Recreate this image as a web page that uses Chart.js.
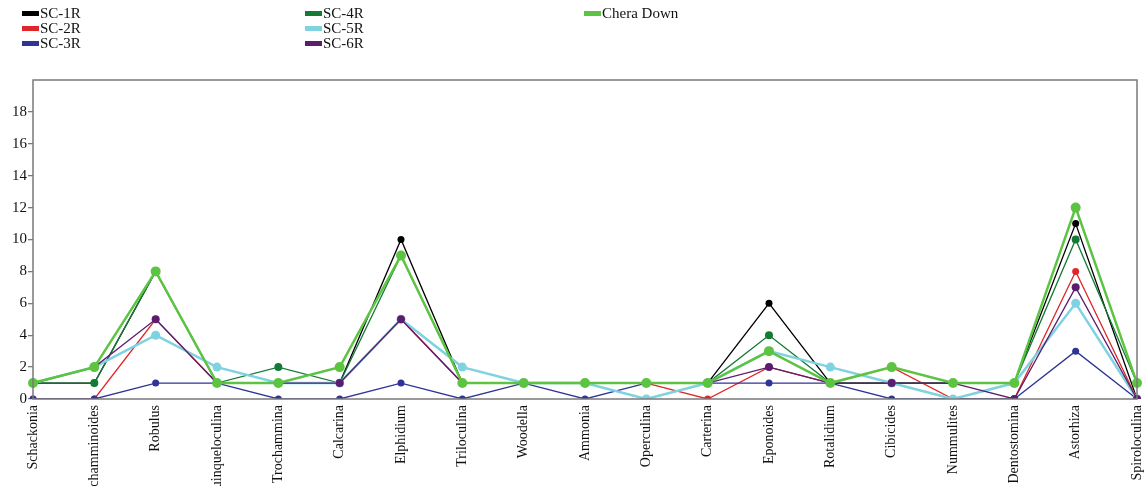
<!DOCTYPE html>
<html>
<head>
<meta charset="utf-8">
<script src="https://cdn.jsdelivr.net/npm/chart.js@4.4.1/dist/chart.umd.min.js"></script>
<style>
  html, body { margin: 0; padding: 0; background: #fff; }
  #wrap { position: relative; width: 1144px; height: 486px; overflow: hidden; }
  #legend { position: absolute; left: 0; top: 0; width: 1144px; height: 60px; font-family: "Liberation Serif", serif; font-size: 15px; color: #111; }
  .item { position: absolute; display: flex; align-items: center; height: 15px; }
  .swatch { width: 17px; height: 5px; margin-right: 1px; }
</style>
</head>
<body>
<div id="wrap">
  <canvas id="genusChart" width="1144" height="486"></canvas>
  <div id="legend"></div>
</div>
<script>
// genera along the x axis
const genera = [
  "Schackonia", "Trochamminoides", "Robulus", "Quinqueloculina", "Trochammina",
  "Calcarina", "Elphidium", "Triloculina", "Woodella", "Ammonia", "Operculina",
  "Carterina", "Eponoides", "Rotalidium", "Cibicides", "Nummulites",
  "Dentostomina", "Astorhiza", "Spiroloculina"
];

// counts per sample
const sc1R = [1, 1, 8, 1, 1, 1, 10, 1, 1, 1, 1, 1, 6, 1, 1, 1, 1, 11, 0];
const sc2R = [0, 0, 5, 1, 1, 1, 5, 1, 1, 1, 1, 0, 2, 1, 2, 0, 0, 8, 0];
const sc3R = [0, 0, 1, 1, 0, 0, 1, 0, 1, 0, 1, 1, 1, 1, 0, 0, 0, 3, 0];
const sc4R = [1, 1, 8, 1, 2, 1, 9, 1, 1, 1, 1, 1, 4, 1, 1, 1, 1, 10, 1];
const sc5R = [1, 2, 4, 2, 1, 1, 5, 2, 1, 1, 0, 1, 3, 2, 1, 0, 1, 6, 0];
const sc6R = [1, 2, 5, 1, 1, 1, 5, 1, 1, 1, 1, 1, 2, 1, 1, 1, 0, 7, 0];
const cheraDown = [1, 2, 8, 1, 1, 2, 9, 1, 1, 1, 1, 1, 3, 1, 2, 1, 1, 12, 1];

const yTicks = [0, 2, 4, 6, 8, 10, 12, 14, 16, 18];

const series = [
  { label: "SC-1R", data: sc1R, color: "#000000", width: 1.3, radius: 3.5, col: 0, row: 0 },
  { label: "SC-2R", data: sc2R, color: "#e0262a", width: 1.3, radius: 3.5, col: 0, row: 1 },
  { label: "SC-3R", data: sc3R, color: "#2f3596", width: 1.3, radius: 3.5, col: 0, row: 2 },
  { label: "SC-4R", data: sc4R, color: "#147a36", width: 1.3, radius: 4, col: 1, row: 0 },
  { label: "SC-5R", data: sc5R, color: "#7fd2e0", width: 2.5, radius: 4.5, col: 1, row: 1 },
  { label: "SC-6R", data: sc6R, color: "#5c1d6e", width: 1.3, radius: 4, col: 1, row: 2 },
  { label: "Chera Down", data: cheraDown, color: "#5dc443", width: 2.5, radius: 5, col: 2, row: 0 }
];

// legend, three columns at the top
const legendEl = document.getElementById("legend");
const colX = [22, 305, 584];
series.forEach((s) => {
  const item = document.createElement("div");
  item.className = "item";
  item.style.left = colX[s.col] + "px";
  item.style.top = (6 + s.row * 15) + "px";
  const sw = document.createElement("span");
  sw.className = "swatch";
  sw.style.background = s.color;
  item.appendChild(sw);
  item.appendChild(document.createTextNode(s.label));
  legendEl.appendChild(item);
});

// box around the plot area
const frame = {
  id: "frame",
  afterDraw(chart) {
    const a = chart.chartArea;
    const ctx = chart.ctx;
    ctx.save();
    ctx.strokeStyle = "#7a7a7a";
    ctx.lineWidth = 1.5;
    ctx.strokeRect(a.left, a.top, a.right - a.left, a.bottom - a.top);
    ctx.restore();
  }
};

const ctx = document.getElementById("genusChart").getContext("2d");
new Chart(ctx, {
  type: "line",
  data: {
    labels: genera,
    // later series sit on top of earlier ones
    datasets: series.map((s, i) => ({
      label: s.label,
      data: s.data,
      borderColor: s.color,
      backgroundColor: s.color,
      borderWidth: s.width,
      pointRadius: s.radius,
      pointBorderWidth: 0,
      pointHoverRadius: s.radius,
      tension: 0,
      fill: false,
      order: series.length - i
    }))
  },
  options: {
    responsive: false,
    animation: false,
    layout: { padding: { top: 80, right: 7, left: 0, bottom: 0 } },
    plugins: { legend: { display: false }, tooltip: { enabled: false } },
    scales: {
      x: {
        offset: false,
        grid: { display: false, drawTicks: false },
        border: { display: false },
        ticks: {
          autoSkip: false,
          maxRotation: 90,
          minRotation: 90,
          padding: 6,
          color: "#111",
          font: { family: "Liberation Serif", size: 14 }
        },
        afterFit(scale) {
          scale.height = 87;
          scale.paddingLeft = 0;
          scale.paddingRight = 0;
        }
      },
      y: {
        min: 0,
        max: 20,
        afterBuildTicks(scale) {
          scale.ticks = yTicks.map((v) => ({ value: v }));
        },
        grid: { drawOnChartArea: false, drawTicks: true, tickLength: 5, color: "#7a7a7a", lineWidth: 1.3 },
        border: { display: false },
        ticks: {
          padding: 1,
          color: "#111",
          font: { family: "Liberation Serif", size: 15 }
        },
        afterFit(scale) {
          scale.width = 33;
        }
      }
    }
  },
  plugins: [frame]
});
</script>
</body>
</html>
